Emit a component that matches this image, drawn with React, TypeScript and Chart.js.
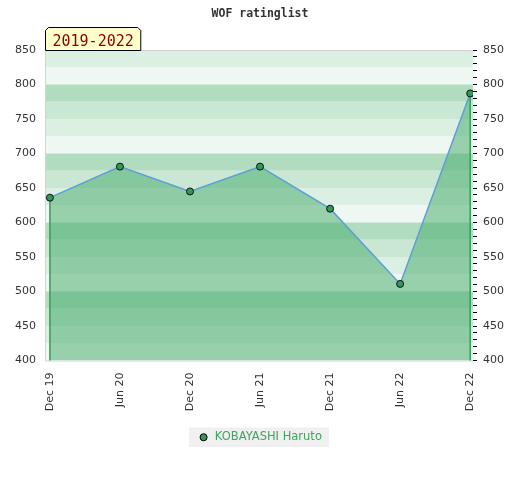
import React, { useEffect, useRef } from "react";
import { Chart, registerables } from "chart.js";

Chart.register(...registerables);

const chartTitle = "WOF ratinglist";
const rangeLabel = "2019-2022";
const seriesName = "KOBAYASHI Haruto";
const periods = ["Dec 19", "Jun 20", "Dec 20", "Jun 21", "Dec 21", "Jun 22", "Dec 22"];
const ratings = [636, 681, 645, 681, 620, 511, 787];
const yMin = 400;
const yMax = 850;
const bandStep = 25;
// colour by (band top value mod 100)
const bandColors: Record<number, string> = {
  0: "#b2dcc0",
  75: "#c9e7d3",
  50: "#dcefe3",
  25: "#eef7f1",
};

export default function App() {
  const ref = useRef<HTMLCanvasElement | null>(null);

  useEffect(() => {
    if (!ref.current) return;
    const bgPlugin = {
      id: "bgBands",
      beforeDraw(chart: any) {
        const { ctx, chartArea } = chart;
        const ys = chart.scales.y;
        ctx.save();
        for (let v = yMax; v > yMin; v -= bandStep) {
          const t = ys.getPixelForValue(v);
          const b = ys.getPixelForValue(v - bandStep);
          ctx.fillStyle = bandColors[((v % 100) + 100) % 100];
          ctx.fillRect(chartArea.left, t, chartArea.right - chartArea.left, b - t);
        }
        ctx.strokeStyle = "#d4d4d4";
        ctx.lineWidth = 1;
        ctx.beginPath();
        ctx.moveTo(chartArea.right, chartArea.top + 0.5);
        ctx.lineTo(chartArea.left + 0.5, chartArea.top + 0.5);
        ctx.lineTo(chartArea.left + 0.5, chartArea.bottom + 0.5);
        ctx.lineTo(chartArea.right, chartArea.bottom + 0.5);
        ctx.stroke();
        // legend background
        const lg = chart.legend;
        if (lg && lg.legendHitBoxes && lg.legendHitBoxes.length) {
          const hb = lg.legendHitBoxes[0];
          ctx.fillStyle = "#f0f0f0";
          ctx.fillRect(hb.left - 9, hb.top - 4, hb.width + 16, hb.height + 8);
        }
        ctx.restore();
      },
      beforeDatasetDraw(chart: any, args: any) {
        const pts = args.meta.data;
        if (!pts || !pts.length) return;
        const { ctx, chartArea } = chart;
        ctx.save();
        ctx.strokeStyle = "#2ea055";
        ctx.lineWidth = 1.5;
        [pts[0], pts[pts.length - 1]].forEach((p: any) => {
          ctx.beginPath();
          ctx.moveTo(p.x, p.y);
          ctx.lineTo(p.x, chartArea.bottom);
          ctx.stroke();
        });
        ctx.restore();
      },
      afterDraw(chart: any) {
        const { ctx, chartArea } = chart;
        ctx.save();
        ctx.font = "15px 'DejaVu Sans Mono'";
        const tw = ctx.measureText(rangeLabel).width;
        const l = chartArea.left + 0.5;
        const r = l + tw + 14;
        const b = chartArea.top + 0.5;
        const t = b - 23;
        ctx.beginPath();
        ctx.moveTo(l, b);
        ctx.lineTo(l, t + 3);
        ctx.lineTo(l + 3, t);
        ctx.lineTo(r - 3, t);
        ctx.lineTo(r, t + 3);
        ctx.lineTo(r, b);
        ctx.closePath();
        ctx.fillStyle = "#ffffcc";
        ctx.fill();
        ctx.strokeStyle = "#000";
        ctx.lineWidth = 1;
        ctx.stroke();
        ctx.fillStyle = "#8b0000";
        ctx.textBaseline = "alphabetic";
        ctx.fillText(rangeLabel, l + 7, b - 5);
        ctx.restore();
      },
    };

    const chart = new Chart(ref.current, {
      type: "line",
      data: {
        datasets: [
          {
            label: seriesName,
            data: periods.map((_, i) => ({ x: i, y: ratings[i] })),
            borderColor: "#5b9fd8",
            borderWidth: 1.5,
            backgroundColor: "rgba(66,170,104,0.5)",
            fill: "start",
            tension: 0,
            pointRadius: 3.5,
            pointBackgroundColor: "#2f9a58",
            pointBorderColor: "#111",
            pointBorderWidth: 1,
          },
        ],
      },
      options: {
        responsive: false,
        animation: false,
        devicePixelRatio: 1,
        layout: { padding: { top: 0, bottom: 27, left: 0, right: 0 } },
        font: { family: "'DejaVu Sans'" },
        plugins: {
          title: {
            display: true,
            text: chartTitle,
            color: "#333",
            font: { family: "'DejaVu Sans Mono'", size: 11.5, weight: "bold", lineHeight: "14px" },
            padding: { top: 7, bottom: 29 },
          },
          legend: {
            position: "bottom",
            labels: {
              usePointStyle: true,
              boxWidth: 11,
              boxHeight: 5,
              color: "#3fa463",
              font: { family: "'DejaVu Sans'", size: 11.5 },
              generateLabels: () => [
                {
                  text: seriesName,
                  fillStyle: "#2f9a58",
                  strokeStyle: "#000",
                  lineWidth: 1,
                  pointStyle: "circle",
                  hidden: false,
                  datasetIndex: 0,
                  fontColor: "#3fa463",
                } as any,
              ],
            },
          },
          tooltip: { enabled: false },
        },
        scales: {
          x: {
            type: "linear",
            min: -0.07,
            max: 6.04,
            afterBuildTicks: (s: any) => {
              s.ticks = periods.map((_, i) => ({ value: i }));
            },
            afterFit: (s: any) => {
              s.height = 61;
            },
            grid: { display: false },
            border: { display: false },
            ticks: {
              autoSkip: false,
              maxRotation: 90,
              minRotation: 90,
              padding: 4,
              color: "#333",
              font: { family: "'DejaVu Sans'", size: 11 },
              callback: (v: any) => periods[v as number] ?? "",
            },
          },
          y: {
            position: "left",
            min: yMin,
            max: yMax,
            afterFit: (s: any) => {
              s.width = 45;
            },
            grid: { display: false, drawTicks: false },
            border: { display: false },
            ticks: {
              stepSize: 50,
              padding: 9,
              color: "#333",
              font: { family: "'DejaVu Sans'", size: 11 },
            },
          },
          y2: {
            position: "right",
            min: yMin,
            max: yMax,
            afterFit: (s: any) => {
              s.width = 47;
            },
            grid: { drawOnChartArea: false, drawTicks: true, tickLength: 4, color: "#000", lineWidth: 1 },
            border: { display: false },
            ticks: {
              stepSize: 10,
              autoSkip: false,
              padding: 6,
              color: "#333",
              font: { family: "'DejaVu Sans'", size: 11 },
              callback: (v: any) => ((v as number) % 50 === 0 ? String(v) : ""),
            },
          },
        },
      },
      plugins: [bgPlugin],
    });
    return () => chart.destroy();
  }, []);

  return (
    <div style={{ position: "fixed", left: 0, top: 0, width: 520, height: 480 }}>
      <canvas ref={ref} width={520} height={480} style={{ width: 520, height: 480 }} />
    </div>
  );
}
